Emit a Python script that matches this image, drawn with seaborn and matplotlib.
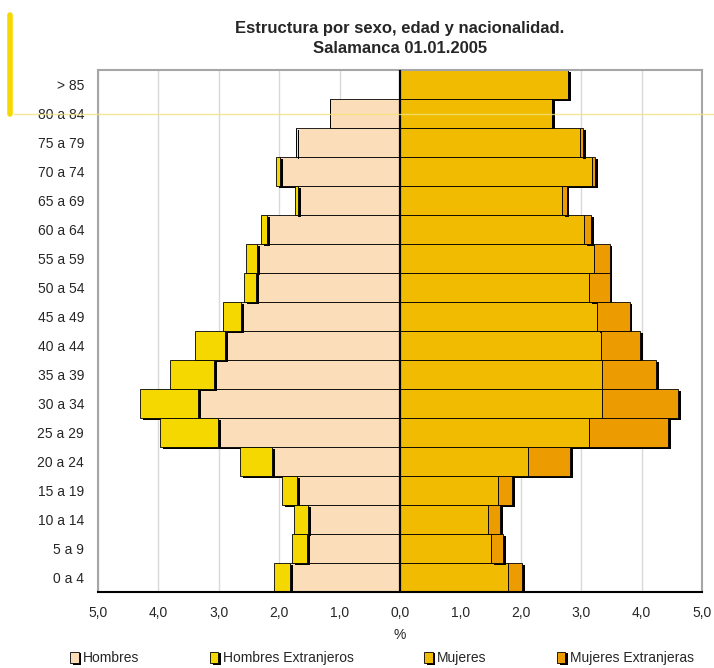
import numpy as np
import pandas as pd
import seaborn as sns
import matplotlib.pyplot as plt
import matplotlib.patheffects as pe
from matplotlib.lines import Line2D
import matplotlib.ticker as ticker

# Datos (% sobre el total de población), de arriba a abajo
edades = ['> 85', '80 a 84', '75 a 79', '70 a 74', '65 a 69', '60 a 64', '55 a 59',
          '50 a 54', '45 a 49', '40 a 44', '35 a 39', '30 a 34', '25 a 29', '20 a 24',
          '15 a 19', '10 a 14', '5 a 9', '0 a 4']
hombres = [0.00, 1.16, 1.72, 1.99, 1.69, 2.20, 2.37, 2.38, 2.63, 2.90, 3.08, 3.34,
           3.01, 2.12, 1.70, 1.52, 1.54, 1.82]
hombres_ext = [0.00, 0.00, 0.01, 0.06, 0.05, 0.10, 0.18, 0.20, 0.30, 0.49, 0.73, 0.96,
               0.96, 0.53, 0.25, 0.24, 0.25, 0.27]
mujeres = [2.78, 2.52, 2.98, 3.18, 2.68, 3.05, 3.22, 3.13, 3.26, 3.33, 3.35, 3.35,
           3.13, 2.12, 1.62, 1.46, 1.51, 1.79]
mujeres_ext = [0.00, 0.00, 0.05, 0.05, 0.08, 0.12, 0.25, 0.34, 0.54, 0.64, 0.89, 1.25,
               1.31, 0.69, 0.23, 0.20, 0.20, 0.23]

series = ['Hombres', 'Hombres Extranjeros', 'Mujeres', 'Mujeres Extranjeras']
colores = ['#fbdeb9', '#f5d800', '#f0bb00', '#ec9b00']

sns.set_style('white')
plt.rcParams['font.family'] = ['Liberation Sans', 'DejaVu Sans']

fig = plt.figure(figsize=(7.14, 6.68), dpi=100)
ax = fig.add_axes([98 / 714, 1 - 592 / 668, 604 / 714, 522 / 668])

sombra = [pe.SimplePatchShadow(offset=(2, -1.2), shadow_rgbFace='black', alpha=1.0), pe.Normal()]

# Barras: hombres a la izquierda (negativo), mujeres a la derecha
valores = [np.negative(hombres), np.negative(hombres_ext), np.array(mujeres), np.array(mujeres_ext)]
for vals, nombre, col in zip(valores, series, colores):
    sns.barplot(x=vals, y=edades, orient='h', color=col, saturation=1, width=1.0,
                edgecolor='black', linewidth=0.6, label=nombre, ax=ax, zorder=2)

# apilar extranjeros sobre la base correspondiente
for p, base in zip(ax.containers[1], hombres):
    p.set_x(-base)
for p, base in zip(ax.containers[3], mujeres):
    p.set_x(base)
for c in ax.containers:
    for p in c:
        p.set_path_effects(sombra)

ax.axvline(0, color='black', lw=1.6, zorder=3)

ax.set_xlim(-5, 5)
ax.set_ylim(len(edades) - 0.5, -0.5)
ax.xaxis.set_major_locator(ticker.MultipleLocator(1))
ax.xaxis.set_major_formatter(ticker.FuncFormatter(lambda v, pos: f'{abs(v):.1f}'.replace('.', ',')))
ax.grid(axis='x', color='#d9d9d9', lw=1, zorder=0)
ax.set_axisbelow(True)

for lado in ['top', 'left', 'right']:
    ax.spines[lado].set_color('#a6a6a6')
    ax.spines[lado].set_linewidth(1.5)
ax.spines['bottom'].set_color('black')
ax.spines['bottom'].set_linewidth(1.5)

ax.tick_params(axis='x', direction='out', length=5, width=1.2, color='black', labelsize=10, pad=5)
ax.tick_params(axis='y', length=0, labelsize=10, pad=10)
ax.set_ylabel('')
ax.set_xlabel('%', fontsize=10, labelpad=6)

ax.set_title('Estructura por sexo, edad y nacionalidad.\nSalamanca 01.01.2005',
             fontsize=12, fontweight='bold', linespacing=1.45, pad=12)

ax.legend(loc='lower center', bbox_to_anchor=(382 / 714, -0.004), bbox_transform=fig.transFigure,
          ncol=4, frameon=False, fontsize=10, handlelength=0.6, handleheight=0.9,
          handletextpad=0.3, columnspacing=5.1, borderaxespad=0)

# marcas amarillas de la página
fig.add_artist(Line2D([10 / 714, 10 / 714], [1 - 15 / 668, 1 - 114 / 668], color='#f5d800', lw=4))
fig.add_artist(Line2D([14 / 714, 1.0], [1 - 114 / 668, 1 - 114 / 668], color='#f5e27a', lw=1, alpha=0.8))

fig.savefig('out.png', dpi=100)
